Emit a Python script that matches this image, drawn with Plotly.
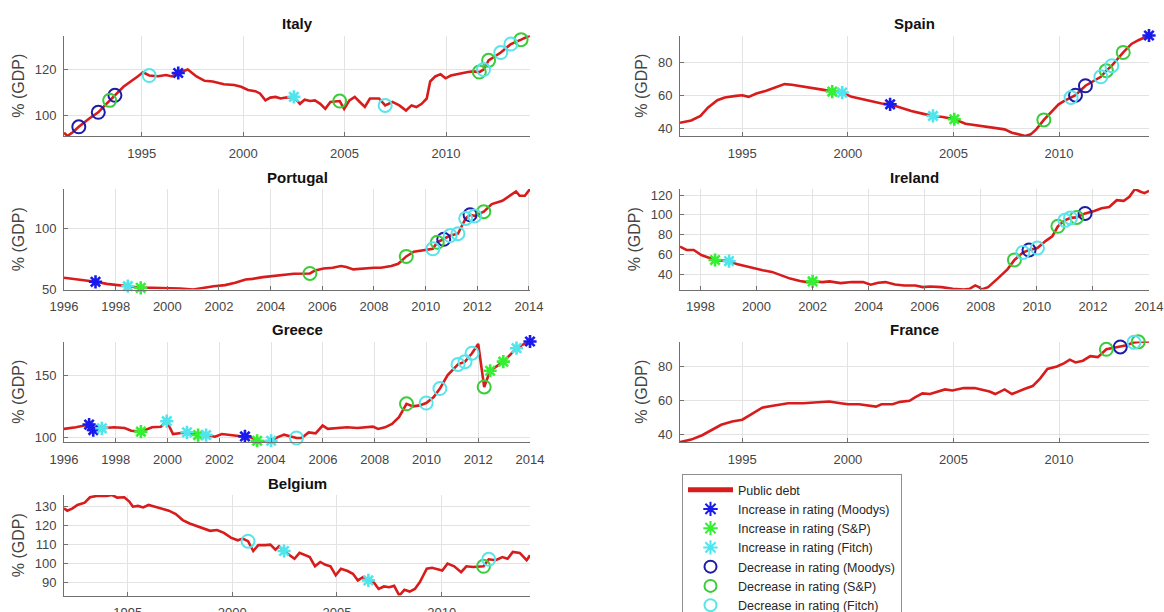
import plotly.graph_objects as go

FONT = "Liberation Sans, Arial, Helvetica, sans-serif"

# ---------------------------------------------------------------------------
# Public debt (% of GDP) by date, and rating events placed on the debt path.
# Event kinds: up_* = increase in rating, dn_* = decrease in rating
#              *_m = Moody's, *_s = S&P, *_f = Fitch
# ---------------------------------------------------------------------------
ITALY_T = [1991.17, 1991.34, 1991.6, 1991.9, 1992.4, 1992.86, 1993.15, 1993.42, 1993.68, 1994.1,
           1994.8, 1995.07, 1995.37, 1995.8, 1996.2, 1996.5, 1996.8, 1997.27, 1997.7, 1998.1,
           1998.5, 1999.05, 1999.56, 1999.9, 2000.24, 2000.6, 2000.83, 2001.1, 2001.34, 2001.6,
           2001.85, 2002.1, 2002.5, 2002.8, 2003.03, 2003.3, 2003.54, 2003.8, 2004.05, 2004.3,
           2004.76, 2004.98, 2005.24, 2005.5, 2005.75, 2006.0, 2006.25, 2006.7, 2007.0, 2007.36,
           2007.7, 2008.03, 2008.3, 2008.54, 2008.8, 2009.05, 2009.22, 2009.47, 2009.73, 2009.98,
           2010.24, 2010.75, 2011.08, 2011.34, 2011.64, 2011.85, 2012.1, 2012.7, 2013.2, 2013.7,
           2014.14]
ITALY_DEBT = [92.4, 91.0, 92.6, 95.0, 98.5, 101.3, 104.0, 106.5, 108.7, 112.4,
              116.9, 118.7, 117.3, 117.0, 117.5, 116.9, 118.4, 119.9, 116.9, 115.0,
              114.7, 113.5, 113.2, 112.4, 111.0, 110.5, 109.5, 106.5, 107.7, 108.0,
              107.3, 107.7, 108.0, 105.0, 106.8, 106.2, 106.5, 105.0, 102.8, 105.8,
              106.2, 102.8, 106.5, 108.0, 105.8, 103.6, 107.3, 107.3, 104.3, 105.8,
              104.3, 102.1, 104.3, 103.6, 105.0, 107.3, 114.7, 116.9, 117.9, 116.1,
              117.3, 118.4, 118.8, 119.1, 118.8, 119.9, 123.9, 127.3, 131.0, 132.9,
              134.7]
ITALY_EV_T = [1991.9, 1992.86, 1993.42, 1993.68, 1995.37, 1996.8, 2002.5, 2004.76, 2007.0,
              2011.64, 2011.85, 2012.1, 2012.7, 2013.2, 2013.7]
ITALY_EV_V = [95.0, 101.3, 106.5, 108.7, 117.3, 118.4, 108.0, 106.2, 104.3,
              118.8, 119.9, 123.9, 127.3, 131.0, 132.9]
ITALY_EV_K = ["dn_m", "dn_m", "dn_s", "dn_m", "dn_f", "up_m", "up_f", "dn_s", "dn_f",
              "dn_s", "dn_f", "dn_s", "dn_f", "dn_f", "dn_s"]

SPAIN_T = [1992.05, 1992.58, 1993.02, 1993.37, 1993.82, 1994.17, 1994.7, 1995.0, 1995.3, 1995.67,
           1996.1, 1996.55, 1997.0, 1997.35, 1997.88, 1998.4, 1998.85, 1999.26, 1999.73, 2000.18,
           2000.7, 2001.24, 2001.6, 2002.0, 2002.47, 2003.0, 2003.53, 2004.03, 2004.5, 2005.04,
           2005.57, 2006.1, 2006.63, 2007.07, 2007.42, 2007.77, 2008.13, 2008.4, 2008.66, 2008.92,
           2009.28, 2009.63, 2009.98, 2010.25, 2010.57, 2010.78, 2011.25, 2011.66, 2011.98, 2012.24,
           2012.5, 2013.04, 2013.43, 2013.78, 2014.26]
SPAIN_DEBT = [43.6, 45.0, 47.7, 52.7, 57.2, 58.8, 59.8, 60.2, 59.2, 61.2,
              62.8, 64.8, 66.9, 66.5, 65.5, 64.2, 63.4, 62.4, 61.8, 59.2,
              57.8, 56.2, 55.2, 54.7, 52.7, 50.7, 49.1, 47.7, 47.1, 45.7,
              43.0, 42.0, 41.0, 40.0, 39.6, 37.6, 36.2, 35.6, 36.6, 39.6,
              45.3, 49.7, 54.7, 56.8, 58.8, 60.2, 65.9, 68.9, 71.3, 75.0,
              78.0, 86.0, 91.1, 93.5, 96.2]
SPAIN_EV_T = [1999.26, 1999.73, 2002.0, 2004.03, 2005.04, 2009.28, 2010.57, 2010.78, 2011.25,
              2011.98, 2012.24, 2012.5, 2013.04, 2014.26]
SPAIN_EV_V = [62.4, 61.8, 54.7, 47.7, 45.7, 45.3, 58.8, 60.2, 65.9,
              71.3, 75.0, 78.0, 86.0, 96.2]
SPAIN_EV_K = ["up_s", "up_f", "up_m", "up_f", "up_s", "dn_s", "dn_f", "dn_m", "dn_m",
              "dn_f", "dn_s", "dn_f", "dn_s", "up_m"]

PORTUGAL_T = [1996.0, 1996.6, 1997.0, 1997.22, 1997.66, 1998.05, 1998.47, 1998.97, 1999.4, 1999.95,
              2000.5, 2001.0, 2001.4, 2001.8, 2002.23, 2002.63, 2003.03, 2003.3, 2003.7, 2004.1,
              2004.5, 2004.9, 2005.52, 2005.72, 2006.05, 2006.4, 2006.72, 2006.93, 2007.2, 2007.6,
              2008.0, 2008.27, 2008.67, 2008.94, 2009.25, 2009.54, 2009.74, 2009.95, 2010.28, 2010.45,
              2010.7, 2010.95, 2011.25, 2011.55, 2011.72, 2011.9, 2012.25, 2012.56, 2012.97, 2013.37,
              2013.5, 2013.64, 2013.84, 2014.04]
PORTUGAL_DEBT = [59.6, 58.2, 56.8, 56.3, 54.6, 53.8, 52.7, 51.4, 51.4, 51.4,
                 50.8, 50.0, 51.4, 52.7, 53.6, 55.5, 58.2, 58.7, 60.1, 60.9,
                 62.3, 62.8, 63.1, 65.6, 67.2, 67.8, 69.1, 68.3, 66.4, 67.2,
                 67.8, 67.8, 69.1, 71.0, 77.0, 80.9, 81.4, 82.0, 83.2, 88.5,
                 91.0, 94.0, 95.5, 108.0, 111.0, 110.0, 113.5, 119.7, 122.4, 127.9,
                 130.0, 126.5, 126.5, 132.0]
PORTUGAL_EV_T = [1997.22, 1998.47, 1998.97, 2005.52, 2009.25, 2010.28, 2010.45, 2010.7, 2010.95,
                 2011.25, 2011.55, 2011.72, 2011.9, 2012.25]
PORTUGAL_EV_V = [56.3, 52.7, 51.4, 63.1, 77.0, 83.2, 88.5, 91.0, 94.0,
                 95.5, 108.0, 111.0, 110.0, 113.5]
PORTUGAL_EV_K = ["up_m", "up_f", "up_s", "dn_s", "dn_s", "dn_f", "dn_s", "dn_m", "dn_f",
                 "dn_f", "dn_f", "dn_m", "dn_f", "dn_s"]

IRELAND_T = [1997.27, 1997.5, 1997.76, 1998.03, 1998.52, 1999.02, 1999.29, 1999.55, 1999.9, 2000.22,
             2000.55, 2000.88, 2001.2, 2001.55, 2001.8, 2002.0, 2002.35, 2002.6, 2003.0, 2003.4,
             2003.8, 2004.07, 2004.34, 2004.6, 2004.94, 2005.27, 2005.67, 2005.93, 2006.2, 2006.6,
             2007.0, 2007.4, 2007.6, 2007.8, 2007.93, 2008.03, 2008.26, 2008.6, 2008.95, 2009.2,
             2009.5, 2009.72, 2010.02, 2010.32, 2010.55, 2010.75, 2011.0, 2011.2, 2011.42, 2011.72,
             2012.05, 2012.31, 2012.58, 2012.85, 2013.1, 2013.3, 2013.5, 2013.7, 2013.84, 2014.0]
IRELAND_DEBT = [68.0, 64.6, 64.6, 59.5, 54.4, 53.3, 50.3, 48.5, 45.8, 44.1,
                42.4, 39.0, 35.6, 33.2, 32.1, 32.8, 32.1, 32.8, 31.1, 32.1,
                32.1, 29.4, 31.5, 32.1, 29.7, 28.7, 28.7, 27.0, 27.7, 27.0,
                25.3, 24.6, 25.3, 28.7, 27.0, 24.6, 27.0, 35.6, 45.0, 54.5,
                62.0, 64.5, 66.5, 73.8, 78.3, 88.5, 94.5, 97.0, 97.5, 101.5,
                103.9, 106.7, 108.0, 114.9, 114.2, 118.3, 126.2, 123.4, 122.0, 124.4]
IRELAND_EV_T = [1998.52, 1999.02, 2002.0, 2009.2, 2009.5, 2009.72, 2010.02, 2010.75, 2011.0,
                2011.2, 2011.42, 2011.72]
IRELAND_EV_V = [54.4, 53.3, 32.8, 54.5, 62.0, 64.5, 66.5, 88.5, 94.5,
                97.0, 97.5, 101.5]
IRELAND_EV_K = ["up_s", "up_f", "up_s", "dn_s", "dn_f", "dn_m", "dn_f", "dn_s", "dn_f",
                "dn_f", "dn_s", "dn_m"]

GREECE_T = [1996.0, 1996.46, 1996.97, 1997.13, 1997.46, 1997.93, 1998.34, 1998.6, 1998.97, 1999.4,
            1999.74, 1999.97, 2000.21, 2000.75, 2001.0, 2001.18, 2001.49, 2001.83, 2002.1, 2002.5,
            2002.77, 2002.99, 2003.23, 2003.46, 2003.75, 2004.0, 2004.24, 2004.5, 2004.98, 2005.18,
            2005.45, 2005.72, 2005.99, 2006.19, 2006.52, 2006.93, 2007.33, 2007.73, 2007.93, 2008.13,
            2008.4, 2008.67, 2008.94, 2009.23, 2009.48, 2009.74, 2009.99, 2010.28, 2010.52, 2010.82,
            2011.22, 2011.49, 2011.76, 2012.0, 2012.23, 2012.46, 2012.7, 2012.97, 2013.23, 2013.48,
            2013.7, 2014.0]
GREECE_DEBT = [106.8, 108.1, 110.3, 105.9, 107.3, 108.1, 107.6, 105.4, 104.6, 108.1,
               108.6, 113.0, 102.7, 104.1, 102.7, 101.9, 101.9, 100.5, 102.7, 101.9,
               101.4, 100.8, 100.0, 97.3, 96.3, 97.3, 100.0, 102.2, 99.5, 99.5,
               104.0, 103.2, 109.5, 106.8, 107.6, 108.1, 107.6, 108.1, 108.6, 106.8,
               108.1, 110.8, 116.2, 127.0, 124.9, 125.7, 127.6, 132.4, 139.2, 150.0,
               158.6, 160.8, 167.6, 175.0, 140.5, 153.5, 156.8, 160.8, 166.2, 171.6,
               174.3, 177.0]
GREECE_EV_T = [1996.97, 1997.13, 1997.46, 1998.97, 1999.97, 2000.75, 2001.18, 2001.49, 2002.99,
               2003.46, 2004.0, 2004.98, 2009.23, 2009.99, 2010.52, 2011.22, 2011.49, 2011.76,
               2012.23, 2012.46, 2012.97, 2013.48, 2014.0]
GREECE_EV_V = [110.3, 105.9, 107.3, 104.6, 113.0, 104.1, 101.9, 101.9, 100.8,
               97.3, 97.3, 99.5, 127.0, 127.6, 139.2, 158.6, 160.8, 167.6,
               140.5, 153.5, 160.8, 171.6, 177.0]
GREECE_EV_K = ["up_m", "up_m", "up_f", "up_s", "up_f", "up_f", "up_s", "up_f", "up_m",
               "up_s", "up_f", "dn_f", "dn_s", "dn_f", "dn_f", "dn_f", "dn_f", "dn_f",
               "dn_s", "up_s", "up_s", "up_f", "up_m"]

FRANCE_T = [1992.05, 1992.58, 1993.1, 1993.55, 1994.0, 1994.52, 1995.0, 1995.4, 1995.94, 1996.38,
            1996.82, 1997.17, 1997.88, 1998.59, 1999.12, 1999.65, 2000.0, 2000.53, 2000.97, 2001.33,
            2001.59, 2002.12, 2002.47, 2002.92, 2003.18, 2003.53, 2003.89, 2004.24, 2004.6, 2004.95,
            2005.48, 2006.0, 2006.36, 2006.71, 2006.98, 2007.42, 2007.77, 2008.04, 2008.39, 2008.75,
            2009.1, 2009.45, 2009.9, 2010.25, 2010.51, 2010.78, 2011.13, 2011.48, 2011.84, 2012.24,
            2012.9, 2013.2, 2013.55, 2013.75, 2014.26]
FRANCE_DEBT = [35.6, 37.0, 39.6, 42.6, 45.7, 47.7, 48.7, 51.7, 55.8, 56.8,
               57.8, 58.4, 58.4, 58.8, 59.4, 58.4, 57.8, 57.8, 57.2, 56.4,
               57.8, 57.8, 59.2, 59.8, 61.8, 64.2, 63.8, 65.3, 66.5, 65.9,
               67.3, 67.3, 66.5, 65.3, 63.8, 66.5, 63.8, 65.3, 66.9, 68.5,
               72.9, 78.6, 80.0, 82.0, 84.0, 82.4, 83.4, 86.1, 85.5, 90.1,
               91.5, 92.5, 94.2, 94.5, 94.7]
FRANCE_EV_T = [2012.24, 2012.9, 2013.55, 2013.75]
FRANCE_EV_V = [90.1, 91.5, 94.2, 94.5]
FRANCE_EV_K = ["dn_s", "dn_m", "dn_f", "dn_s"]

BELGIUM_T = [1991.96, 1992.12, 1992.37, 1992.6, 1992.95, 1993.2, 1993.52, 1994.0, 1994.26, 1994.5,
             1994.84, 1995.08, 1995.25, 1995.5, 1995.74, 1996.0, 1996.31, 1996.64, 1996.97, 1997.3,
             1997.63, 1997.96, 1998.29, 1998.6, 1998.94, 1999.27, 1999.6, 1999.93, 2000.26, 2000.5,
             2000.75, 2001.0, 2001.24, 2001.57, 2001.82, 2002.06, 2002.23, 2002.47, 2002.72, 2002.97,
             2003.21, 2003.46, 2003.7, 2003.95, 2004.2, 2004.45, 2004.69, 2004.94, 2005.19, 2005.51,
             2005.76, 2006.0, 2006.25, 2006.5, 2006.75, 2006.99, 2007.24, 2007.49, 2007.73, 2007.98,
             2008.22, 2008.47, 2008.72, 2008.96, 2009.29, 2009.54, 2009.78, 2010.03, 2010.28, 2010.6,
             2010.93, 2011.18, 2011.5, 2012.0, 2012.25, 2012.58, 2012.9, 2013.15, 2013.4, 2013.73,
             2014.06, 2014.22]
BELGIUM_DEBT = [129.1, 127.9, 129.1, 130.9, 132.1, 135.0, 135.7, 135.7, 136.2, 134.8,
                135.0, 132.7, 130.0, 130.4, 129.6, 130.9, 130.0, 129.1, 127.9, 126.1,
                122.9, 121.1, 119.7, 118.4, 117.2, 117.6, 116.1, 113.6, 112.2, 113.1,
                111.7, 106.5, 109.6, 109.6, 109.9, 107.2, 109.0, 106.5, 104.2, 102.4,
                105.5, 104.2, 103.3, 98.4, 100.7, 99.2, 98.4, 93.6, 97.1, 95.9,
                94.4, 90.9, 92.7, 90.9, 90.0, 86.4, 87.7, 87.3, 88.0, 82.9,
                85.9, 85.0, 86.4, 90.0, 97.1, 97.6, 97.1, 96.2, 99.8, 98.4,
                95.3, 98.4, 98.0, 98.4, 102.1, 101.6, 103.3, 102.4, 106.0, 105.5,
                101.6, 104.2]
BELGIUM_EV_T = [2000.75, 2002.47, 2006.5, 2012.0, 2012.25]
BELGIUM_EV_V = [111.7, 106.5, 90.9, 98.4, 102.1]
BELGIUM_EV_K = ["dn_f", "up_f", "up_f", "dn_s", "dn_f"]

# Tick labels
YEARS_BY_5 = [1995, 2000, 2005, 2010]
YEARS_BY_2 = [1996, 1998, 2000, 2002, 2004, 2006, 2008, 2010, 2012, 2014]
ITALY_YTICKS = [100, 120]
SPAIN_YTICKS = [40, 60, 80]
PORTUGAL_YTICKS = [50, 100]
IRELAND_YTICKS = [40, 60, 80, 100, 120]
GREECE_YTICKS = [100, 150]
FRANCE_YTICKS = [40, 60, 80]
BELGIUM_YTICKS = [90, 100, 110, 120, 130]

# Legend text per event kind, in legend order
KIND_ORDER = ["up_m", "up_s", "up_f", "dn_m", "dn_s", "dn_f"]
KIND_NAMES = ["Increase in rating (Moodys)", "Increase in rating (S&P)", "Increase in rating (Fitch)",
              "Decrease in rating (Moodys)", "Decrease in rating (S&P)", "Decrease in rating (Fitch)"]

# ---------------------------------------------------------------------------
# Styling
# ---------------------------------------------------------------------------
W, H = 1164, 612
COL_X = [(64, 530), (680, 1149)]          # pixel extents of the two columns
ROW_TOP = [35.5, 189, 341.5, 495]         # pixel top of each row
ROW_H = 100.5

DEBT_COLOR = "#d81c1c"
KIND_STYLE = {
    "up_m": dict(symbol="asterisk-open", color="#1a1aee", size=11, width=2.6),
    "up_s": dict(symbol="asterisk-open", color="#33f033", size=11, width=2.6),
    "up_f": dict(symbol="asterisk-open", color="#4ee6ec", size=11, width=2.6),
    "dn_m": dict(symbol="circle-open", color="#1c1ca6", size=13, width=2.0),
    "dn_s": dict(symbol="circle-open", color="#3acc3a", size=13, width=2.0),
    "dn_f": dict(symbol="circle-open", color="#58e4ea", size=13, width=2.0),
}
AXIS_GRAY = "#707070"
TICK_GRAY = "#454545"
GRID_GRAY = "#e3e3e3"

panels = [
    ("Italy", ITALY_T, ITALY_DEBT, ITALY_EV_T, ITALY_EV_V, ITALY_EV_K, YEARS_BY_5, ITALY_YTICKS, 0, 0),
    ("Spain", SPAIN_T, SPAIN_DEBT, SPAIN_EV_T, SPAIN_EV_V, SPAIN_EV_K, YEARS_BY_5, SPAIN_YTICKS, 0, 1),
    ("Portugal", PORTUGAL_T, PORTUGAL_DEBT, PORTUGAL_EV_T, PORTUGAL_EV_V, PORTUGAL_EV_K, YEARS_BY_2, PORTUGAL_YTICKS, 1, 0),
    ("Ireland", IRELAND_T, IRELAND_DEBT, IRELAND_EV_T, IRELAND_EV_V, IRELAND_EV_K, YEARS_BY_2, IRELAND_YTICKS, 1, 1),
    ("Greece", GREECE_T, GREECE_DEBT, GREECE_EV_T, GREECE_EV_V, GREECE_EV_K, YEARS_BY_2, GREECE_YTICKS, 2, 0),
    ("France", FRANCE_T, FRANCE_DEBT, FRANCE_EV_T, FRANCE_EV_V, FRANCE_EV_K, YEARS_BY_5, FRANCE_YTICKS, 2, 1),
    ("Belgium", BELGIUM_T, BELGIUM_DEBT, BELGIUM_EV_T, BELGIUM_EV_V, BELGIUM_EV_K, YEARS_BY_5, BELGIUM_YTICKS, 3, 0),
]

fig = go.Figure()
layout = dict(
    width=W, height=H, autosize=False,
    margin=dict(l=0, r=0, t=0, b=0, pad=0, autoexpand=False),
    paper_bgcolor="white", plot_bgcolor="white",
    font=dict(family=FONT, size=13, color=TICK_GRAY),
    showlegend=True,
    legend=dict(
        x=682 / W, y=1 - 474 / H, xanchor="left", yanchor="top",
        bgcolor="white", bordercolor="#8e8e8e", borderwidth=1,
        font=dict(family=FONT, size=12.5, color="#262626"),
        itemwidth=45, tracegroupgap=0, itemsizing="constant",
    ),
    annotations=[],
)

shown = set()
for i, (name, t, debt, ev_t, ev_v, ev_k, xticks, yticks, row, col) in enumerate(panels):
    n = i + 1
    xa, ya = f"x{n}", f"y{n}"
    x0, x1 = COL_X[col]
    top = ROW_TOP[row]
    bottom = top + ROW_H
    xdom = [x0 / W, x1 / W]
    ydom = [1 - bottom / H, 1 - top / H]

    common = dict(
        showline=True, linecolor=AXIS_GRAY, linewidth=1, mirror=False,
        ticks="inside", ticklen=4, tickcolor=AXIS_GRAY, tickwidth=1,
        showgrid=True, gridcolor=GRID_GRAY, gridwidth=1, zeroline=False,
        tickfont=dict(family=FONT, size=13, color=TICK_GRAY),
        fixedrange=True,
    )
    layout[f"xaxis{n}"] = dict(
        common, domain=xdom, anchor=ya,
        range=[min(t), max(t)], tickmode="array", tickvals=xticks,
        ticktext=[str(v) for v in xticks], ticklabelstandoff=5,
    )
    layout[f"yaxis{n}"] = dict(
        common, domain=ydom, anchor=xa,
        range=[min(debt), max(debt)], tickmode="array", tickvals=yticks,
        ticklabelstandoff=4,
        title=dict(text="% (GDP)", font=dict(family=FONT, size=16, color=TICK_GRAY), standoff=6),
    )
    layout["annotations"].append(dict(
        text=f"<b>{name}</b>", xref="paper", yref="paper",
        x=(xdom[0] + xdom[1]) / 2, y=ydom[1], yshift=12,
        xanchor="center", yanchor="middle", showarrow=False,
        font=dict(family=FONT, size=15, color="#111111"),
    ))

    fig.add_trace(go.Scatter(
        x=t, y=debt, xaxis=xa, yaxis=ya, mode="lines",
        line=dict(color=DEBT_COLOR, width=2.6),
        name="Public debt", legendgroup="debt", legendrank=1,
        showlegend=("debt" not in shown), hoverinfo="skip",
    ))
    shown.add("debt")

    # circles first, stars on top
    for kind in ["dn_m", "dn_s", "dn_f", "up_m", "up_s", "up_f"]:
        px = [a for a, k in zip(ev_t, ev_k) if k == kind]
        py = [b for b, k in zip(ev_v, ev_k) if k == kind]
        if not px:
            continue
        st = KIND_STYLE[kind]
        fig.add_trace(go.Scatter(
            x=px, y=py, xaxis=xa, yaxis=ya, mode="markers",
            marker=dict(symbol=st["symbol"], size=st["size"], color=st["color"],
                        line=dict(color=st["color"], width=st["width"])),
            name=KIND_NAMES[KIND_ORDER.index(kind)], legendgroup=kind,
            legendrank=2 + KIND_ORDER.index(kind),
            showlegend=(kind not in shown), cliponaxis=False, hoverinfo="skip",
        ))
        shown.add(kind)

fig.update_layout(**layout)
fig.write_html("out.html")
